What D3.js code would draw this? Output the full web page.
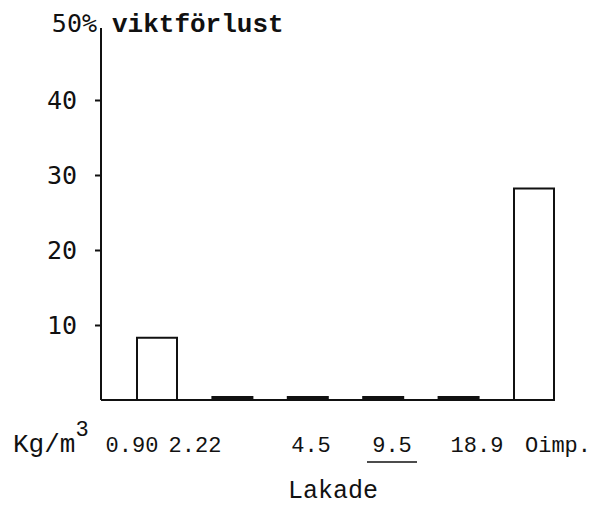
<!DOCTYPE html>
<html>
<head>
<meta charset="utf-8">
<script src="https://cdn.jsdelivr.net/npm/d3@7/dist/d3.min.js"></script>
<style>
  html, body { margin: 0; padding: 0; background: #fff; }
  svg { display: block; }
</style>
</head>
<body>
<svg id="chart" width="613" height="506"></svg>
<script>
// ---- data ----
const categories = ["0.90", "2.22", "4.5", "9.5", "18.9", "Oimp."];
const values = [8.3, 0.4, 0.4, 0.4, 0.4, 28.2];
const yTicks = [10, 20, 30, 40];
const yTopLabel = "50%";
const yTitle = "viktförlust";
const unitLabel = "Kg/m";
const unitSup = "3";
const xTitle = "Lakade";
const underlined = ["9.5"];

// ---- layout ----
const svg = d3.select("#chart");
const ink = "#111";
const axisX = 101, baseY = 400;

const y = d3.scaleLinear().domain([0, 50]).range([baseY, 25]);
const x = d3.scalePoint().domain(categories).range([157, 534]);
// typewritten label row: hand-placed positions as in the original typescript
const xl = d3.scaleOrdinal().domain(categories).range([132, 195, 311, 392, 477, 558]);
const barW = 40;

// bars
svg.append("g").selectAll("rect")
  .data(categories)
  .join("rect")
  .attr("x", d => x(d) - barW / 2)
  .attr("y", (d, i) => y(values[i]))
  .attr("width", barW)
  .attr("height", (d, i) => baseY - y(values[i]))
  .attr("fill", (d, i) => values[i] < 1 ? ink : "none")
  .attr("stroke", ink)
  .attr("stroke-width", 2);

// y axis
const yAxis = d3.axisLeft(y).tickValues(yTicks).tickSize(6).tickPadding(18)
  .tickFormat(d3.format("d"));
const gy = svg.append("g").attr("transform", `translate(${axisX},0)`).call(yAxis);
gy.select(".domain").remove();
gy.selectAll(".tick line").attr("stroke", ink).attr("stroke-width", 2);
gy.selectAll(".tick text")
  .attr("fill", ink)
  .style("font-family", "'DejaVu Sans Mono', monospace")
  .style("font-size", "25px");

// axis lines
svg.append("line").attr("x1", axisX).attr("x2", axisX)
  .attr("y1", 28).attr("y2", baseY)
  .attr("stroke", ink).attr("stroke-width", 2);
svg.append("line").attr("x1", axisX).attr("x2", x(categories[categories.length - 1]) + barW / 2)
  .attr("y1", baseY).attr("y2", baseY)
  .attr("stroke", ink).attr("stroke-width", 2);

// top labels
svg.append("text").attr("x", 97).attr("y", 32).attr("text-anchor", "end")
  .attr("fill", ink)
  .style("font-family", "'DejaVu Sans Mono', monospace").style("font-size", "25px")
  .text(yTopLabel);
svg.append("text").attr("x", 112).attr("y", 32)
  .attr("fill", ink)
  .style("font-family", "'Liberation Mono', monospace").style("font-size", "26px")
  .style("font-weight", "bold")
  .text(yTitle);

// x labels
const xFont = "'Liberation Mono', monospace";
svg.append("g").selectAll("text")
  .data(categories)
  .join("text")
  .attr("x", d => xl(d))
  .attr("y", 452)
  .attr("text-anchor", "middle")
  .attr("fill", ink)
  .style("font-family", xFont).style("font-size", "22px")
  .text(d => d);

// underline
svg.append("g").selectAll("line")
  .data(underlined)
  .join("line")
  .attr("x1", d => xl(d) - 25).attr("x2", d => xl(d) + 25)
  .attr("y1", 462).attr("y2", 462)
  .attr("stroke", ink).attr("stroke-width", 1.5);

// unit label
const ut = svg.append("text").attr("x", 13).attr("y", 452)
  .attr("fill", ink)
  .style("font-family", xFont).style("font-size", "26px");
ut.append("tspan").text(unitLabel);
ut.append("tspan").attr("dy", -16).style("font-size", "22px").text(unitSup);

// x title
svg.append("text").attr("x", 333).attr("y", 498).attr("text-anchor", "middle")
  .attr("fill", ink)
  .style("font-family", xFont).style("font-size", "25px")
  .text(xTitle);
</script>
</body>
</html>
